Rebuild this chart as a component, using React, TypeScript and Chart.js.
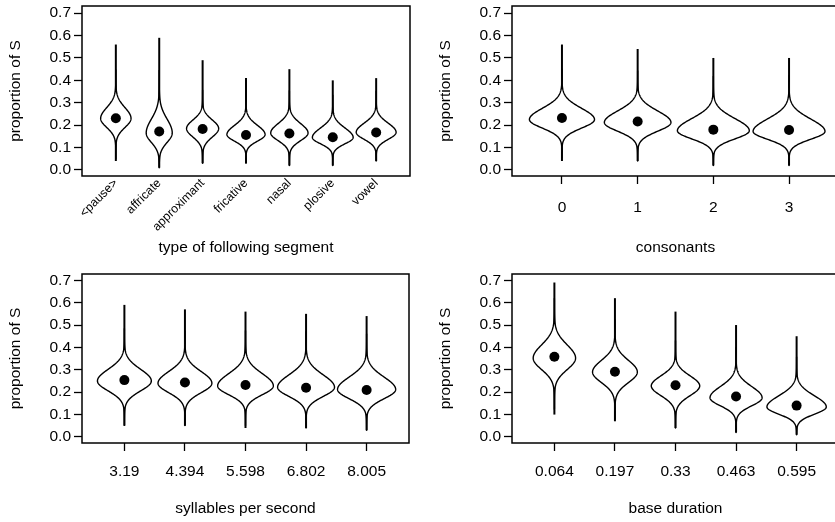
import React, { useEffect, useRef } from "react";
import { Chart, registerables } from "chart.js";

Chart.register(...registerables);

const FONT = "'Liberation Sans', Arial, Helvetica, sans-serif";

// shared y axis
const yTickValues = [0, 0.1, 0.2, 0.3, 0.4, 0.5, 0.6, 0.7];
const yTickLabels = ["0.0", "0.1", "0.2", "0.3", "0.4", "0.5", "0.6", "0.7"];
const yTitle = "proportion of S";

// panel 1: type of following segment
const segmentCategories = ["<pause>", "affricate", "approximant", "fricative", "nasal", "plosive", "vowel"];
const segmentMeans = [0.231, 0.172, 0.183, 0.156, 0.163, 0.146, 0.167];
const segmentMins = [0.04, 0.01, 0.03, 0.03, 0.02, 0.02, 0.04];
const segmentMaxs = [0.56, 0.59, 0.49, 0.41, 0.45, 0.40, 0.41];
const segmentModes = [0.23, 0.165, 0.185, 0.158, 0.165, 0.145, 0.168];
const segmentTipLows = [0.13, 0.06, 0.09, 0.085, 0.08, 0.075, 0.09];
const segmentTipHighs = [0.35, 0.32, 0.28, 0.26, 0.27, 0.25, 0.27];
const segmentHalfWidths = [0.35, 0.30, 0.37, 0.44, 0.43, 0.47, 0.46];

// panel 2: consonants
const consonantCategories = ["0", "1", "2", "3"];
const consonantMeans = [0.232, 0.216, 0.18, 0.178];
const consonantMins = [0.04, 0.04, 0.02, 0.02];
const consonantMaxs = [0.56, 0.54, 0.50, 0.50];
const consonantModes = [0.225, 0.212, 0.175, 0.172];
const consonantTipLows = [0.13, 0.115, 0.085, 0.085];
const consonantTipHighs = [0.35, 0.34, 0.31, 0.31];
const consonantHalfWidths = [0.43, 0.44, 0.475, 0.475];

// panel 3: syllables per second
const rateCategories = ["3.19", "4.394", "5.598", "6.802", "8.005"];
const rateMeans = [0.254, 0.243, 0.232, 0.22, 0.21];
const rateMins = [0.05, 0.05, 0.04, 0.04, 0.03];
const rateMaxs = [0.59, 0.57, 0.56, 0.55, 0.54];
const rateModes = [0.25, 0.24, 0.228, 0.222, 0.212];
const rateTipLows = [0.14, 0.135, 0.13, 0.12, 0.11];
const rateTipHighs = [0.38, 0.37, 0.365, 0.36, 0.35];
const rateHalfWidths = [0.445, 0.445, 0.46, 0.47, 0.48];

// panel 4: base duration
const durationCategories = ["0.064", "0.197", "0.33", "0.463", "0.595"];
const durationMeans = [0.358, 0.291, 0.231, 0.181, 0.14];
const durationMins = [0.10, 0.07, 0.04, 0.02, 0.01];
const durationMaxs = [0.69, 0.62, 0.56, 0.50, 0.45];
const durationModes = [0.352, 0.29, 0.228, 0.175, 0.134];
const durationTipLows = [0.225, 0.173, 0.12, 0.086, 0.054];
const durationTipHighs = [0.50, 0.42, 0.34, 0.30, 0.258];
const durationHalfWidths = [0.35, 0.37, 0.40, 0.43, 0.49];

type ViolinSet = {
  categories: string[];
  means: number[];
  mins: number[];
  maxs: number[];
  modes: number[];
  tipLows: number[];
  tipHighs: number[];
  halfWidths: number[];
  xTitle: string;
};

type Frame = {
  left: number;
  top: number;
  width: number;
  height: number;
  areaLeft: number;
  areaRight: number;
  areaTop: number;
  areaBottom: number;
  xMin: number;
  xMax: number;
  yMin: number;
  yMax: number;
  rotated: boolean;
  labelPad: number;
};

const panels: { set: ViolinSet; frame: Frame }[] = [
  {
    set: {
      categories: segmentCategories, means: segmentMeans, mins: segmentMins, maxs: segmentMaxs,
      modes: segmentModes, tipLows: segmentTipLows, tipHighs: segmentTipHighs, halfWidths: segmentHalfWidths,
      xTitle: "type of following segment",
    },
    frame: { left: 0, top: 0, width: 418, height: 261, areaLeft: 82, areaRight: 410, areaTop: 6, areaBottom: 176,
      xMin: 0.22, xMax: 7.78, yMin: -0.027, yMax: 0.732, rotated: true, labelPad: 0 },
  },
  {
    set: {
      categories: consonantCategories, means: consonantMeans, mins: consonantMins, maxs: consonantMaxs,
      modes: consonantModes, tipLows: consonantTipLows, tipHighs: consonantTipHighs, halfWidths: consonantHalfWidths,
      xTitle: "consonants",
    },
    frame: { left: 418, top: 0, width: 430, height: 261, areaLeft: 94, areaRight: 421, areaTop: 6, areaBottom: 176,
      xMin: 0.34, xMax: 4.66, yMin: -0.027, yMax: 0.732, rotated: false, labelPad: 14 },
  },
  {
    set: {
      categories: rateCategories, means: rateMeans, mins: rateMins, maxs: rateMaxs,
      modes: rateModes, tipLows: rateTipLows, tipHighs: rateTipHighs, halfWidths: rateHalfWidths,
      xTitle: "syllables per second",
    },
    frame: { left: 0, top: 261, width: 418, height: 261, areaLeft: 82, areaRight: 409, areaTop: 13, areaBottom: 182,
      xMin: 0.3, xMax: 5.7, yMin: -0.027, yMax: 0.728, rotated: false, labelPad: 11 },
  },
  {
    set: {
      categories: durationCategories, means: durationMeans, mins: durationMins, maxs: durationMaxs,
      modes: durationModes, tipLows: durationTipLows, tipHighs: durationTipHighs, halfWidths: durationHalfWidths,
      xTitle: "base duration",
    },
    frame: { left: 418, top: 261, width: 430, height: 261, areaLeft: 94, areaRight: 421, areaTop: 13, areaBottom: 182,
      xMin: 0.3, xMax: 5.7, yMin: -0.027, yMax: 0.728, rotated: false, labelPad: 11 },
  },
];

function ViolinPanel({ set, frame }: { set: ViolinSet; frame: Frame }) {
  const ref = useRef<HTMLCanvasElement>(null);

  useEffect(() => {
    const canvas = ref.current;
    if (!canvas) return;

    const violinPlugin = {
      id: "violinShapes",
      beforeDatasetsDraw(chart: any) {
        const { ctx, chartArea } = chart;
        const xs = chart.scales.x;
        const ys = chart.scales.y;
        ctx.save();
        ctx.beginPath();
        ctx.rect(chartArea.left, chartArea.top, chartArea.right - chartArea.left, chartArea.bottom - chartArea.top);
        ctx.clip();
        const unit = Math.abs(xs.getPixelForValue(2) - xs.getPixelForValue(1));
        set.categories.forEach((_, i) => {
          const cx = xs.getPixelForValue(i + 1);
          // whisker line (full range)
          ctx.beginPath();
          ctx.moveTo(cx, ys.getPixelForValue(set.mins[i]));
          ctx.lineTo(cx, ys.getPixelForValue(set.maxs[i]));
          ctx.lineWidth = 2;
          ctx.lineCap = "butt";
          ctx.strokeStyle = "#000";
          ctx.stroke();
          // violin outline
          const mode = set.modes[i];
          const sUp = (set.tipHighs[i] - mode) / 2.5;
          const sDn = (mode - set.tipLows[i]) / 2.5;
          const lo = Math.max(set.mins[i], mode - 4.5 * sDn);
          const hi = Math.min(set.maxs[i], mode + 4.5 * sUp);
          const W = set.halfWidths[i] * unit;
          const pts: [number, number][] = [];
          const N = 160;
          for (let k = 0; k <= N; k++) {
            const v = lo + ((hi - lo) * k) / N;
            const s = v < mode ? sDn : sUp;
            const z = (v - mode) / s;
            pts.push([v, W * Math.exp(-0.5 * z * z)]);
          }
          ctx.beginPath();
          pts.forEach(([v, w], k) => {
            const py = ys.getPixelForValue(v);
            if (k === 0) ctx.moveTo(cx + w, py);
            else ctx.lineTo(cx + w, py);
          });
          for (let k = pts.length - 1; k >= 0; k--) {
            const [v, w] = pts[k];
            ctx.lineTo(cx - w, ys.getPixelForValue(v));
          }
          ctx.closePath();
          ctx.fillStyle = "#fff";
          ctx.fill();
          ctx.lineWidth = 1.4;
          ctx.lineJoin = "round";
          ctx.stroke();
        });
        ctx.restore();
      },
      afterDraw(chart: any) {
        const { ctx, chartArea } = chart;
        ctx.save();
        ctx.strokeStyle = "#000";
        ctx.lineWidth = 1.5;
        ctx.strokeRect(chartArea.left, chartArea.top, chartArea.right - chartArea.left, chartArea.bottom - chartArea.top);
        ctx.restore();
      },
    };

    const zeroPad = (s: any) => {
      s.paddingLeft = 0;
      s.paddingRight = 0;
      s.paddingTop = 0;
      s.paddingBottom = 0;
    };

    const chart = new Chart(canvas, {
      type: "scatter",
      data: {
        datasets: [
          {
            data: set.means.map((m, i) => ({ x: i + 1, y: m })),
            pointRadius: 5,
            pointBackgroundColor: "#000",
            pointBorderWidth: 0,
            pointHoverRadius: 5,
          },
        ],
      },
      options: {
        animation: false,
        responsive: false,
        events: [],
        layout: {
          padding: { left: 0, top: frame.areaTop, right: frame.width - frame.areaRight, bottom: 0 },
        },
        plugins: {
          legend: { display: false },
          tooltip: { enabled: false },
        },
        scales: {
          x: {
            type: "linear",
            min: frame.xMin,
            max: frame.xMax,
            afterBuildTicks: (s: any) => {
              s.ticks = set.categories.map((_, i) => ({ value: i + 1 }));
            },
            afterFit: (s: any) => {
              s.height = frame.height - frame.areaBottom;
              zeroPad(s);
            },
            border: { display: false },
            grid: {
              display: !frame.rotated,
              drawOnChartArea: false,
              drawTicks: !frame.rotated,
              tickLength: 8,
              tickColor: "#000",
              tickWidth: 1.3,
              color: "#000",
            },
            ticks: {
              autoSkip: false,
              maxRotation: frame.rotated ? 45 : 0,
              minRotation: frame.rotated ? 45 : 0,
              padding: frame.labelPad,
              color: "#000",
              font: { family: FONT, size: frame.rotated ? 12.3 : 15.5 },
              callback: (v: any) => set.categories[Math.round(Number(v)) - 1],
            },
            title: {
              display: true,
              text: set.xTitle,
              color: "#000",
              font: { family: FONT, size: 15.5 },
              padding: { top: 0, bottom: 4 },
            },
          },
          y: {
            type: "linear",
            min: frame.yMin,
            max: frame.yMax,
            afterBuildTicks: (s: any) => {
              s.ticks = yTickValues.map((v) => ({ value: v }));
            },
            afterFit: (s: any) => {
              s.width = frame.areaLeft;
              zeroPad(s);
            },
            border: { display: false },
            grid: {
              drawOnChartArea: false,
              drawTicks: true,
              tickLength: 8,
              tickColor: "#000",
              tickWidth: 1.3,
              color: "#000",
            },
            ticks: {
              padding: 3,
              color: "#000",
              font: { family: FONT, size: 15.5 },
              callback: (_v: any, i: number) => yTickLabels[i],
            },
            title: {
              display: true,
              text: yTitle,
              color: "#000",
              font: { family: FONT, size: 15.5 },
              padding: { top: 6.5 + (frame.areaLeft - 82), bottom: 0 },
            },
          },
        },
      },
      plugins: [violinPlugin],
    } as any);

    return () => chart.destroy();
  }, [set, frame]);

  return (
    <canvas
      ref={ref}
      width={frame.width}
      height={frame.height}
      style={{ position: "absolute", left: frame.left, top: frame.top, width: frame.width, height: frame.height }}
    />
  );
}

export default function App() {
  return (
    <div
      style={{
        position: "absolute",
        left: 0,
        top: 0,
        width: 835,
        height: 522,
        overflow: "hidden",
        background: "#fff",
      }}
    >
      {panels.map((p, i) => (
        <ViolinPanel key={i} set={p.set} frame={p.frame} />
      ))}
    </div>
  );
}
